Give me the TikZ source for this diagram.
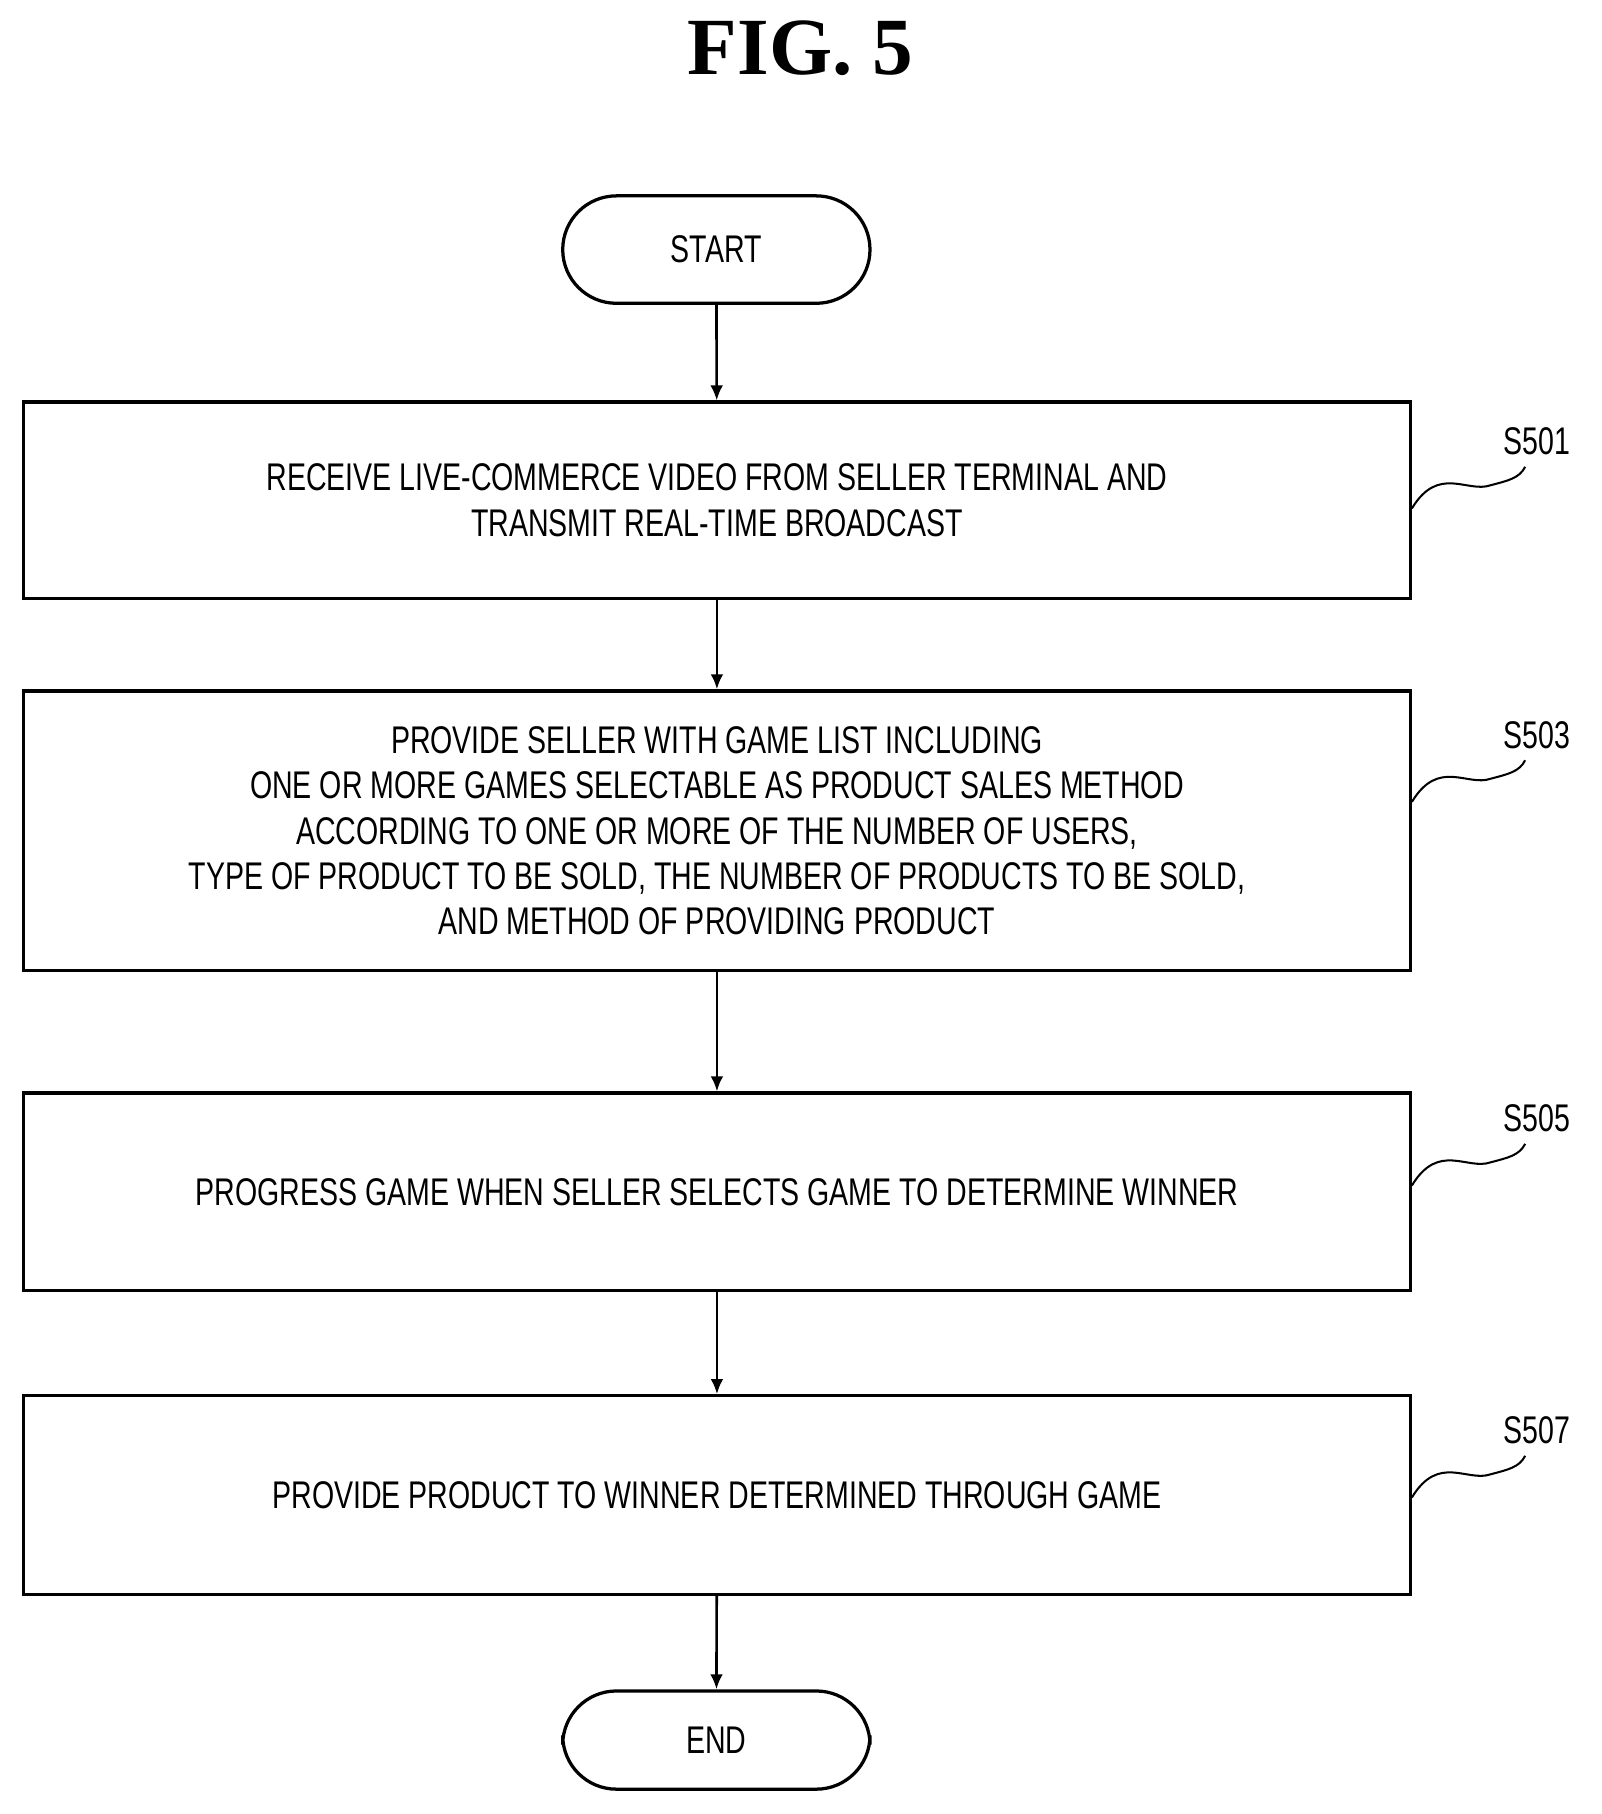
\documentclass[tikz,border=0pt]{standalone}
\usepackage{fontspec}
\setmainfont{Liberation Serif}
\newfontfamily\boxfont{Liberation Sans}[FakeStretch=0.74]
\usetikzlibrary{arrows.meta}
\usetikzlibrary{positioning}
\begin{document}
\begin{tikzpicture}[x=0.02cm,y=-0.02cm,line width=1.6pt,
    stepbox/.style={draw,minimum width=24.02cm,align=center,inner sep=0pt,
        font=\boxfont\fontsize{19}{22.3}\selectfont},
    term/.style={draw,rounded corners=0.93cm,minimum width=5.32cm,
        font=\boxfont\fontsize{19}{22.3}\selectfont},
    flow/.style={-{Latex[length=2.6mm,width=2.2mm]},line width=1.3pt},
    tag/.style={font=\boxfont\fontsize{19}{22}\selectfont}]
    \useasboundingbox (0,0) rectangle (1386,1570);

    \node[font=\bfseries\fontsize{40}{40}\selectfont] (title) at (693,42) {FIG. 5};

    \node[term,minimum height=1.86cm] (start) at (620,216) {START};
    \node[stepbox,minimum height=3.4cm] (s501) at (620.5,433) {RECEIVE LIVE-COMMERCE VIDEO FROM SELLER TERMINAL AND\\TRANSMIT REAL-TIME BROADCAST};
    \node[stepbox,minimum height=4.84cm] (s503) at (620.5,719) {PROVIDE SELLER WITH GAME LIST INCLUDING\\ONE OR MORE GAMES SELECTABLE AS PRODUCT SALES METHOD\\ACCORDING TO ONE OR MORE OF THE NUMBER OF USERS,\\TYPE OF PRODUCT TO BE SOLD, THE NUMBER OF PRODUCTS TO BE SOLD,\\AND METHOD OF PROVIDING PRODUCT};
    \node[stepbox,minimum height=3.42cm] (s505) at (620.5,1031.5) {PROGRESS GAME WHEN SELLER SELECTS GAME TO DETERMINE WINNER};
    \node[stepbox,minimum height=3.44cm] (s507) at (620.5,1294) {PROVIDE PRODUCT TO WINNER DETERMINED THROUGH GAME};
    \node[term,minimum height=1.7cm] (end) at (620,1506) {END};

    \draw[flow] (start) -- (s501);
    \draw[flow] (s501) -- (s503);
    \draw[flow] (s503) -- (s505);
    \draw[flow] (s505) -- (s507);
    \draw[flow] (s507) -- (end);

    % step labels with wavy leaders
    \foreach \s/\y in {501/382,503/636,505/968,507/1238}{
        \node[tag] (l\s) at (1330,\y) {S\s};
        \draw[line width=1pt] (1222,\y+58) .. controls (1245,\y+20) and (1270,\y+45) .. (1290,\y+38)
            .. controls (1305,\y+34) and (1315,\y+32) .. (1320,\y+22);
    }
\end{tikzpicture}
\end{document}
